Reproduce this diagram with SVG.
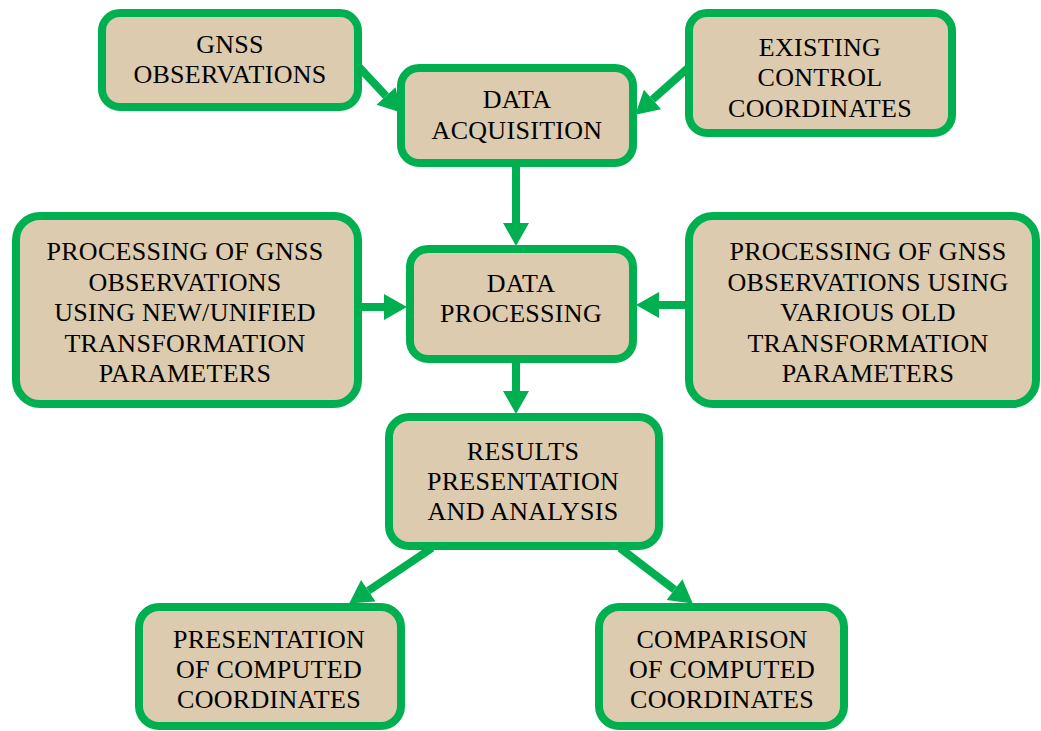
<svg xmlns="http://www.w3.org/2000/svg" width="1041" height="731" viewBox="0 0 1041 731">
<style>
.box{fill:#dccbae;stroke:#00b050;stroke-width:8}
.lbl{font-family:'Liberation Serif','Times New Roman','DejaVu Serif',serif;font-size:26px;fill:#000;text-anchor:middle;letter-spacing:0.3px}
.con{stroke:#00b050;stroke-width:8;fill:none;marker-end:url(#ah)}
</style>
<defs>
<marker id="ah" markerUnits="userSpaceOnUse" markerWidth="24" markerHeight="26" refX="0" refY="13" orient="auto" overflow="visible">
<path d="M0,0 L23,13 L0,26 z" fill="#00b050"/>
</marker>
</defs>
<rect width="1041" height="731" fill="#fff"/>
<g id="connectors">
<line class="con" x1="358" y1="66" x2="386" y2="96"/>
<line class="con" x1="688" y1="68" x2="652.5" y2="99.4"/>
<line class="con" x1="516" y1="166" x2="516" y2="223"/>
<line class="con" x1="362" y1="307" x2="384" y2="307"/>
<line class="con" x1="686" y1="305" x2="659" y2="305"/>
<line class="con" x1="516" y1="362" x2="516" y2="391"/>
<line class="con" x1="432" y1="548" x2="368.3" y2="590.7"/>
<line class="con" x1="620" y1="548" x2="674.5" y2="589.6"/>
</g>
<g id="gnss">
<rect class="box" x="102" y="13" width="256" height="94" rx="18"/>
<text class="lbl" x="230" y="53">GNSS</text>
<text class="lbl" x="230" y="83">OBSERVATIONS</text>
</g>
<g id="acquisition">
<rect class="box" x="401" y="68" width="232" height="95" rx="18"/>
<text class="lbl" x="517" y="108">DATA</text>
<text class="lbl" x="517" y="139">ACQUISITION</text>
</g>
<g id="existing">
<rect class="box" x="689" y="13" width="263" height="120" rx="18"/>
<text class="lbl" x="820" y="56">EXISTING</text>
<text class="lbl" x="820" y="86">CONTROL</text>
<text class="lbl" x="820" y="117">COORDINATES</text>
</g>
<g id="proc-new">
<rect class="box" x="16" y="216" width="342" height="188" rx="24"/>
<text class="lbl" x="185" y="260">PROCESSING OF GNSS</text>
<text class="lbl" x="185" y="291">OBSERVATIONS</text>
<text class="lbl" x="185" y="321">USING NEW/UNIFIED</text>
<text class="lbl" x="185" y="352">TRANSFORMATION</text>
<text class="lbl" x="185" y="382">PARAMETERS</text>
</g>
<g id="processing">
<rect class="box" x="410" y="249" width="223" height="110" rx="18"/>
<text class="lbl" x="521" y="292">DATA</text>
<text class="lbl" x="521" y="322">PROCESSING</text>
</g>
<g id="proc-old">
<rect class="box" x="689" y="216" width="347" height="188" rx="24"/>
<text class="lbl" x="868" y="260">PROCESSING OF GNSS</text>
<text class="lbl" x="868" y="291">OBSERVATIONS USING</text>
<text class="lbl" x="868" y="321">VARIOUS OLD</text>
<text class="lbl" x="868" y="352">TRANSFORMATION</text>
<text class="lbl" x="868" y="382">PARAMETERS</text>
</g>
<g id="results">
<rect class="box" x="389" y="417" width="270" height="129" rx="20"/>
<text class="lbl" x="523" y="460">RESULTS</text>
<text class="lbl" x="523" y="490">PRESENTATION</text>
<text class="lbl" x="523" y="520">AND ANALYSIS</text>
</g>
<g id="presentation">
<rect class="box" x="139" y="607" width="262" height="119" rx="20"/>
<text class="lbl" x="269" y="648">PRESENTATION</text>
<text class="lbl" x="269" y="678">OF COMPUTED</text>
<text class="lbl" x="269" y="708">COORDINATES</text>
</g>
<g id="comparison">
<rect class="box" x="599" y="607" width="245" height="119" rx="20"/>
<text class="lbl" x="722" y="648">COMPARISON</text>
<text class="lbl" x="722" y="678">OF COMPUTED</text>
<text class="lbl" x="722" y="708">COORDINATES</text>
</g>
</svg>
